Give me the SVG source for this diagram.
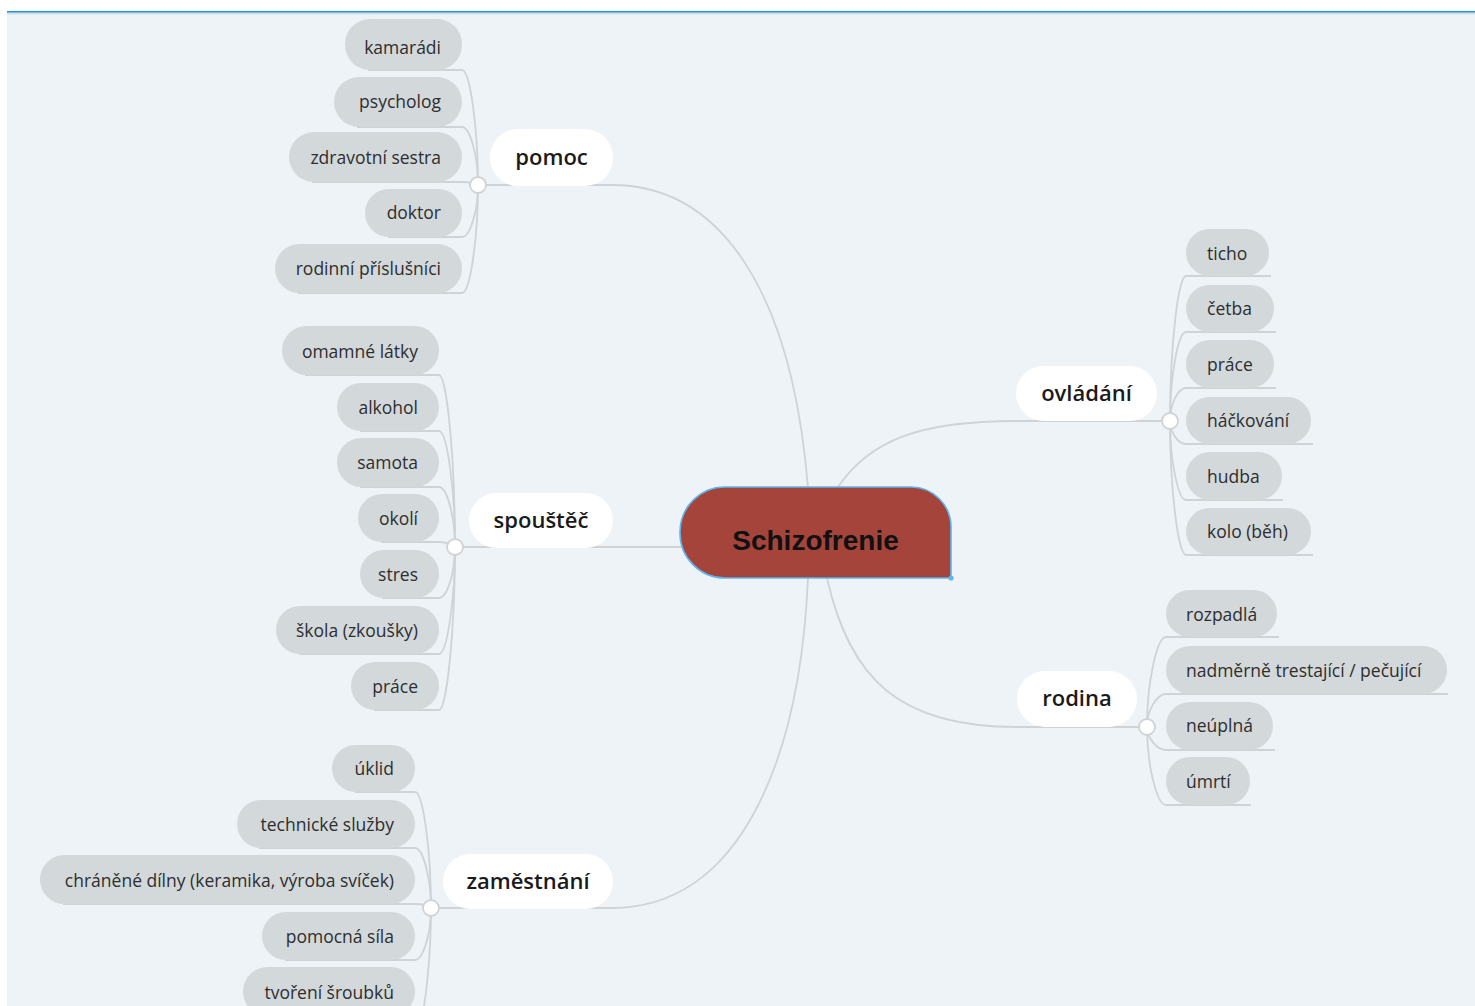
<svg xmlns="http://www.w3.org/2000/svg" width="1475" height="1006" viewBox="0 0 1475 1006">
<style>
.sub rect{fill:#d3d8db}
.sub text{font-family:"Open Sans","Liberation Sans",sans-serif;font-size:17.5px;fill:#2e2e2e}
.main rect{fill:#ffffff}
.main text{font-family:"Open Sans","Liberation Sans",sans-serif;font-size:22px;font-weight:600;fill:#1a1a1a;text-anchor:middle}
.l text{text-anchor:end}
.r text{text-anchor:start}
#connectors path{fill:none;stroke:#cfd3d6;stroke-width:1.8}
.junction{fill:#ffffff;stroke:#cfd3d6;stroke-width:1.8}
</style>
<rect x="0" y="0" width="1475" height="1006" fill="#ffffff"/>
<rect x="7" y="11" width="1468" height="995" fill="#eef3f7"/>
<line x1="7" y1="11.8" x2="1475" y2="11.8" stroke="#1e98e0" stroke-width="1.8"/>
<line x1="7" y1="13.6" x2="1475" y2="13.6" stroke="#d8dfe4" stroke-width="1.6"/>

<g id="connectors">
  <!-- main branches -->
  <path d="M478,185 H612 C720,185 792,290 808,488"/>
  <path d="M455,547 H682"/>
  <path d="M431,908 H612 C740,908 800,760 808,578"/>
  <path d="M1170,421 H1016 C920,421 870,440 838,487"/>
  <path d="M1147,727 H1017 C900,727 850,680 827,578"/>
  <!-- pomoc children -->
  <path d="M478,185 C478,128 470,70 462,70 H368"/>
  <path d="M478,185 C478,156 470,127 462,127 H357"/>
  <path d="M478,185 C478,184 470,182 462,182 H312"/>
  <path d="M478,185 C478,211 470,237 462,237 H388"/>
  <path d="M478,185 C478,239 470,293 462,293 H298"/>
  <!-- spouštěč children -->
  <path d="M455,547 C455,461 447,375 439,375 H305"/>
  <path d="M455,547 C455,489 447,431 439,431 H360"/>
  <path d="M455,547 C455,517 447,487 439,487 H360"/>
  <path d="M455,547 C455,545 447,542 439,542 H381"/>
  <path d="M455,547 C455,573 447,598 439,598 H382"/>
  <path d="M455,547 C455,600 447,654 439,654 H299"/>
  <path d="M455,547 C455,628 447,710 439,710 H374"/>
  <!-- zaměstnání children -->
  <path d="M431,908 C431,850 423,792 415,792 H355"/>
  <path d="M431,908 C431,878 423,848 415,848 H259"/>
  <path d="M431,908 C431,906 423,904 415,904 H63"/>
  <path d="M431,908 C431,934 423,960 415,960 H285"/>
  <path d="M431,908 C431,960 425,1006 421,1020"/>
  <!-- ovládání children -->
  <path d="M1170,421 C1170,348 1178,276 1186,276 H1271"/>
  <path d="M1170,421 C1170,377 1178,332 1186,332 H1276"/>
  <path d="M1170,421 C1170,404 1178,388 1186,388 H1276"/>
  <path d="M1170,421 C1170,432 1178,444 1186,444 H1313"/>
  <path d="M1170,421 C1170,460 1178,500 1186,500 H1283"/>
  <path d="M1170,421 C1170,488 1178,555 1186,555 H1313"/>
  <!-- rodina children -->
  <path d="M1147,727 C1147,682 1157,637 1166,637 H1279"/>
  <path d="M1147,727 C1147,710 1157,694 1166,694 H1448"/>
  <path d="M1147,727 C1147,738 1157,750 1166,750 H1275"/>
  <path d="M1147,727 C1147,766 1157,805 1166,805 H1251"/>
</g>

<g id="junctions">
  <circle class="junction" cx="478" cy="185" r="8"/>
  <circle class="junction" cx="455" cy="547" r="8"/>
  <circle class="junction" cx="431" cy="908" r="8"/>
  <circle class="junction" cx="1170" cy="421" r="8"/>
  <circle class="junction" cx="1147" cy="727" r="8"/>
</g>

<g id="node-root">
  <path d="M725,487 H911 A40,40 0 0 1 951,527 V578 H725 A45,45 0 0 1 680,533 V532 A45,45 0 0 1 725,487 Z" fill="#a5443b" stroke="#5cb6ee" stroke-width="1.6"/>
  <circle cx="951" cy="578" r="2.6" fill="#5cb6ee"/>
  <text x="815.5" y="550" text-anchor="middle" font-family="'Liberation Sans',Arial,sans-serif" font-size="28" font-weight="bold" fill="#111">Schizofrenie</text>
</g>

<g id="node-pomoc" class="main"><rect x="490" y="129" width="123" height="57" rx="28"/><text x="551.5" y="165">pomoc</text></g>
<g id="node-spoustec" class="main"><rect x="469" y="493" width="144" height="55" rx="27.5"/><text x="541" y="528">spouštěč</text></g>
<g id="node-zamestnani" class="main"><rect x="443" y="854" width="170" height="55" rx="27.5"/><text x="528" y="889">zaměstnání</text></g>
<g id="node-ovladani" class="main"><rect x="1016" y="366" width="141" height="55" rx="27.5"/><text x="1086.5" y="401">ovládání</text></g>
<g id="node-rodina" class="main"><rect x="1017" y="671" width="120" height="56" rx="28"/><text x="1077" y="706">rodina</text></g>

<!-- pomoc children -->
<g id="node-kamaradi" class="sub l"><rect x="345" y="19" width="117" height="51" rx="25"/><text x="441" y="54">kamarádi</text></g>
<g id="node-psycholog" class="sub l"><rect x="334" y="77" width="128" height="50" rx="25"/><text x="441" y="108">psycholog</text></g>
<g id="node-zdravotni" class="sub l"><rect x="289" y="132" width="173" height="50" rx="25"/><text x="441" y="164">zdravotní sestra</text></g>
<g id="node-doktor" class="sub l"><rect x="365" y="189" width="97" height="48" rx="24"/><text x="441" y="219">doktor</text></g>
<g id="node-rodinni" class="sub l"><rect x="275" y="244" width="187" height="49" rx="24.5"/><text x="441" y="275">rodinní příslušníci</text></g>

<!-- spouštěč children -->
<g id="node-omamne" class="sub l"><rect x="282" y="326" width="157" height="49" rx="24.5"/><text x="418" y="358">omamné látky</text></g>
<g id="node-alkohol" class="sub l"><rect x="337" y="383" width="102" height="48" rx="24"/><text x="418" y="414">alkohol</text></g>
<g id="node-samota" class="sub l"><rect x="337" y="438" width="102" height="49" rx="24.5"/><text x="418" y="469">samota</text></g>
<g id="node-okoli" class="sub l"><rect x="358" y="494" width="81" height="48" rx="24"/><text x="418" y="525">okolí</text></g>
<g id="node-stres" class="sub l"><rect x="360" y="550" width="79" height="48" rx="24"/><text x="418" y="581">stres</text></g>
<g id="node-skola" class="sub l"><rect x="276" y="606" width="163" height="48" rx="24"/><text x="418" y="637">škola (zkoušky)</text></g>
<g id="node-prace1" class="sub l"><rect x="351" y="662" width="88" height="48" rx="24"/><text x="418" y="693">práce</text></g>

<!-- zaměstnání children -->
<g id="node-uklid" class="sub l"><rect x="332" y="745" width="83" height="47" rx="23.5"/><text x="394" y="775">úklid</text></g>
<g id="node-technicke" class="sub l"><rect x="237" y="800" width="178" height="48" rx="24"/><text x="394" y="831">technické služby</text></g>
<g id="node-chranene" class="sub l"><rect x="40" y="855" width="375" height="49" rx="24.5"/><text x="394" y="887">chráněné dílny (keramika, výroba svíček)</text></g>
<g id="node-pomocna" class="sub l"><rect x="262" y="912" width="153" height="48" rx="24"/><text x="394" y="943">pomocná síla</text></g>
<g id="node-tvoreni" class="sub l"><rect x="243" y="967" width="172" height="49" rx="24.5"/><text x="394" y="999">tvoření šroubků</text></g>

<!-- ovládání children -->
<g id="node-ticho" class="sub r"><rect x="1186" y="229" width="83" height="47" rx="23.5"/><text x="1207" y="260">ticho</text></g>
<g id="node-cetba" class="sub r"><rect x="1186" y="285" width="88" height="47" rx="23.5"/><text x="1207" y="315">četba</text></g>
<g id="node-prace2" class="sub r"><rect x="1186" y="340" width="88" height="48" rx="24"/><text x="1207" y="371">práce</text></g>
<g id="node-hackovani" class="sub r"><rect x="1186" y="397" width="125" height="47" rx="23.5"/><text x="1207" y="427">háčkování</text></g>
<g id="node-hudba" class="sub r"><rect x="1186" y="452" width="96" height="48" rx="24"/><text x="1207" y="483">hudba</text></g>
<g id="node-kolo" class="sub r"><rect x="1186" y="508" width="125" height="47" rx="23.5"/><text x="1207" y="538">kolo (běh)</text></g>

<!-- rodina children -->
<g id="node-rozpadla" class="sub r"><rect x="1166" y="590" width="111" height="47" rx="23.5"/><text x="1186" y="621">rozpadlá</text></g>
<g id="node-nadmerne" class="sub r"><rect x="1166" y="646" width="281" height="48" rx="24"/><text x="1186" y="677">nadměrně trestající / pečující</text></g>
<g id="node-neuplna" class="sub r"><rect x="1166" y="702" width="107" height="48" rx="24"/><text x="1186" y="732">neúplná</text></g>
<g id="node-umrti" class="sub r"><rect x="1166" y="757" width="84" height="48" rx="24"/><text x="1186" y="788">úmrtí</text></g>
</svg>
